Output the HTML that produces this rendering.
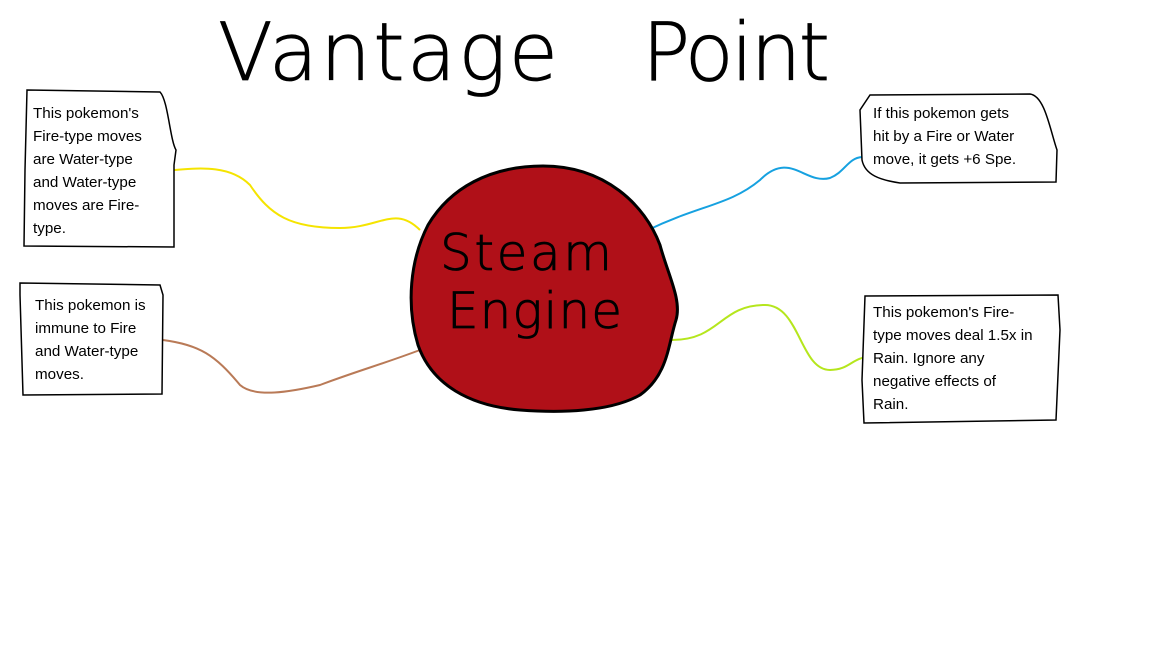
<!DOCTYPE html>
<html><head><meta charset="utf-8"><style>
html,body{margin:0;padding:0;background:#fff;width:1152px;height:648px;overflow:hidden}
svg{display:block}
.t{font-family:"Liberation Sans",sans-serif;font-size:15.2px;fill:#000}
</style></head><body>
<svg width="1152" height="648" viewBox="0 0 1152 648" xmlns="http://www.w3.org/2000/svg">
<rect width="1152" height="648" fill="#fff"/>
<text x="218" y="80" font-family="DejaVu Sans, Liberation Sans, sans-serif" font-weight="200" font-size="80" fill="#000" stroke="#000" stroke-width="0.8" textLength="340" lengthAdjust="spacing">Vantage</text>
<text x="642" y="80" font-family="DejaVu Sans, Liberation Sans, sans-serif" font-weight="200" font-size="80" fill="#000" stroke="#000" stroke-width="0.8" textLength="188" lengthAdjust="spacing">Point</text>

<path d="M174,170 C200,168 230,165 250,185 C270,215 290,228 340,228 C380,228 395,205 420,230" fill="none" stroke="#f5e400" stroke-width="2"/>
<path d="M163,340 C200,345 215,355 240,385 C255,398 290,392 320,385 C360,370 380,365 420,350" fill="none" stroke="#b97a57" stroke-width="2"/>
<path d="M648,230 C700,205 730,205 760,180 C790,150 805,185 830,178 C845,172 848,158 862,157" fill="none" stroke="#16a1e0" stroke-width="2"/>
<path d="M672,340 C720,340 720,305 765,305 C800,305 800,370 830,370 C850,370 852,357 870,357" fill="none" stroke="#b5e61d" stroke-width="2"/>

<path d="M543,166 C605,166 645,205 660,245 C668,275 682,300 676,320 C668,345 668,375 640,395 C610,412 560,413 520,410 C470,406 432,385 418,345 C406,305 410,260 428,225 C450,188 490,166 543,166 Z" fill="#b01018" stroke="#000" stroke-width="3"/>
<text x="440" y="270" font-family="DejaVu Sans, Liberation Sans, sans-serif" font-weight="200" font-size="50" fill="#000" stroke="#000" stroke-width="0.8" textLength="172" lengthAdjust="spacing">Steam</text>
<text x="447" y="328" font-family="DejaVu Sans, Liberation Sans, sans-serif" font-weight="200" font-size="50" fill="#000" stroke="#000" stroke-width="0.8" textLength="175" lengthAdjust="spacing">Engine</text>

<path d="M27,90 L160,92 C168,100 170,140 176,150 L174,165 L174,247 L24,246 L25,170 Z" fill="#fff" stroke="#000" stroke-width="1.5"/>
<text class="t" x="33" y="118">This pokemon's</text>
<text class="t" x="33" y="141">Fire-type moves</text>
<text class="t" x="33" y="164">are Water-type</text>
<text class="t" x="33" y="187">and Water-type</text>
<text class="t" x="33" y="210">moves are Fire-</text>
<text class="t" x="33" y="233">type.</text>

<path d="M20,283 L160,285 L163,295 L162,394 L23,395 L20,295 Z" fill="#fff" stroke="#000" stroke-width="1.5"/>
<text class="t" x="35" y="310">This pokemon is</text>
<text class="t" x="35" y="333">immune to Fire</text>
<text class="t" x="35" y="356">and Water-type</text>
<text class="t" x="35" y="379">moves.</text>

<path d="M870,95 L1030,94 C1045,96 1050,130 1057,150 L1056,182 L900,183 C880,180 865,175 862,160 L860,110 Z" fill="#fff" stroke="#000" stroke-width="1.5"/>
<text class="t" x="873" y="118">If this pokemon gets</text>
<text class="t" x="873" y="141">hit by a Fire or Water</text>
<text class="t" x="873" y="164">move, it gets +6 Spe.</text>

<path d="M865,296 L1058,295 L1060,330 L1056,420 L864,423 L862,380 Z" fill="#fff" stroke="#000" stroke-width="1.5"/>
<text class="t" x="873" y="317">This pokemon's Fire-</text>
<text class="t" x="873" y="340">type moves deal 1.5x in</text>
<text class="t" x="873" y="363">Rain. Ignore any</text>
<text class="t" x="873" y="386">negative effects of</text>
<text class="t" x="873" y="409">Rain.</text>
</svg>
</body></html>
